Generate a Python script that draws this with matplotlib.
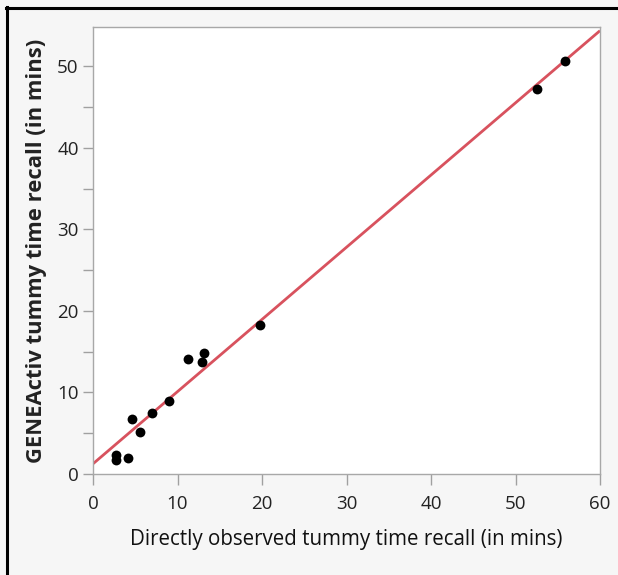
import numpy as np
import matplotlib
matplotlib.use("Agg")
import matplotlib.pyplot as plt
from matplotlib.ticker import MultipleLocator
from matplotlib.lines import Line2D

# Observed vs device-measured tummy time recall (minutes)
observed = [55.8, 52.6, 19.8, 11.2, 13.1, 12.9, 9.0, 7.0, 4.6, 5.6, 2.7, 2.7, 4.2]
geneactiv = [50.6, 47.2, 18.3, 14.1, 14.8, 13.7, 8.9, 7.5, 6.8, 5.2, 2.3, 1.7, 2.0]

# Fitted line: intercept and slope
fit_intercept = 1.25
fit_slope = 0.885

x_ticks = [0, 10, 20, 30, 40, 50, 60]
y_ticks = [0, 10, 20, 30, 40, 50]

W, H = 618, 575
fig = plt.figure(figsize=(W / 100, H / 100), dpi=100, facecolor="#f6f6f6")

left, right, top, bottom = 93, 600, 27, 474
ax = fig.add_axes([left / W, 1 - bottom / H, (right - left) / W, (bottom - top) / H])
ax.set_facecolor("white")

ax.scatter(observed, geneactiv, s=50, color="black", zorder=3, linewidths=0)

xl = np.array([0, 60])
ax.plot(xl, fit_intercept + fit_slope * xl, color="#d8525e", lw=2.0, zorder=2,
        solid_capstyle="butt")

ax.set_xlim(0, 60)
ax.set_ylim(0, 54.8)
ax.set_xticks(x_ticks)
ax.set_yticks(y_ticks)
ax.yaxis.set_minor_locator(MultipleLocator(5))

for s in ax.spines.values():
    s.set_color("#a8a8a8")
    s.set_linewidth(1.0)

font = "Open Sans"
ax.tick_params(axis="both", which="both", direction="out", width=1,
               color="#a0a0a0", labelsize=13.5, labelcolor="#222222")
ax.tick_params(axis="x", length=8, pad=7)
ax.tick_params(axis="y", which="both", length=7.3, pad=3)
for lab in ax.get_xticklabels() + ax.get_yticklabels():
    lab.set_fontfamily(font)

ax.set_xlabel("Directly observed tummy time recall (in mins)", fontsize=14.8,
              fontfamily=font, color="#111111")
ax.xaxis.set_label_coords(0.5, (474 - 529) / 447)
ax.set_ylabel("GENEActiv tummy time recall (in mins)", fontsize=15.8,
              fontweight="bold", fontfamily=font, color="#222222")
ax.yaxis.set_label_coords((47 - 93) / 507, 0.5)

# Outer frame on the top and left edges
fig.add_artist(Line2D([6 / W, 1], [1 - 8 / H, 1 - 8 / H], color="black", lw=2.2,
                      transform=fig.transFigure))
fig.add_artist(Line2D([7 / W, 7 / W], [0, 1 - 7 / H], color="black", lw=2.2,
                      transform=fig.transFigure))

fig.savefig("out.png", dpi=100, facecolor=fig.get_facecolor())
